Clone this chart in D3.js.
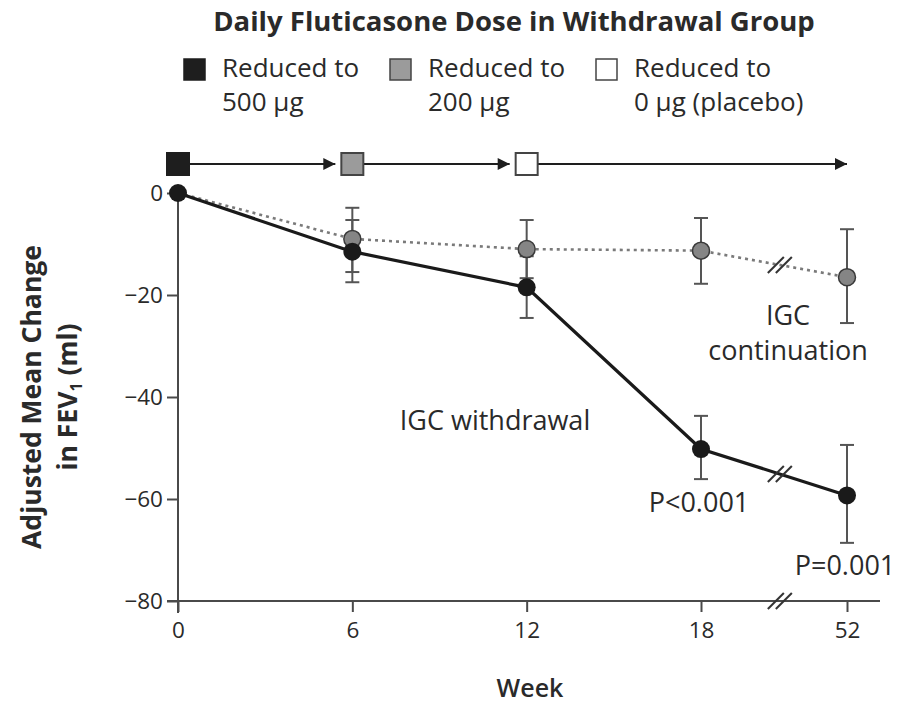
<!DOCTYPE html>
<html>
<head>
<meta charset="utf-8">
<script src="https://cdn.jsdelivr.net/npm/d3@7"></script>
<style>
  html, body { margin: 0; padding: 0; background: #fff; }
  svg { display: block; font-family: "Open Sans", "DejaVu Sans", sans-serif; }
</style>
</head>
<body>
<svg id="chart" width="899" height="703"></svg>
<script>
// ---------------- data ----------------
const weeks = [0, 6, 12, 18, 52];
const weekLabels = ["0", "6", "12", "18", "52"];
const yTicks = [0, -20, -40, -60, -80];

// IGC continuation (grey, dotted)
const contMean  = [0, -9.0, -11.0, -11.3, -16.5];
const contLower = [null, -15.5, -16.7, -17.8, -25.5];
const contUpper = [null, -2.9, -5.3, -4.9, -7.1];

// IGC withdrawal (black, solid)
const withMean  = [0, -11.5, -18.5, -50.2, -59.3];
const withLower = [null, -17.5, -24.5, -56.1, -68.6];
const withUpper = [null, -5.3, -12.4, -43.7, -49.4];

// Dose phases in withdrawal group
const doseStartWeeks = [0, 6, 12];
const doseFills = ["#1e1e1e", "#9b9b9b", "#ffffff"];
const legendLine1 = ["Reduced to", "Reduced to", "Reduced to"];
const legendLine2 = ["500 \u03BCg", "200 \u03BCg", "0 \u03BCg (placebo)"];

// ---------------- layout ----------------
const svg = d3.select("#chart");
svg.append("rect").attr("width", 899).attr("height", 703).attr("fill", "#fff");

const x = d3.scaleLinear().domain([0, 18, 52]).range([178, 701, 847]);
const y = d3.scaleLinear().domain([0, -80]).range([193, 601]);

const axisColor = "#4a4a4a";
const textColor = "#2a2a2a";

// title
svg.append("text")
  .attr("x", 514).attr("y", 31)
  .attr("text-anchor", "middle")
  .attr("font-size", 27.5).attr("font-weight", 700)
  .attr("fill", textColor)
  .text("Daily Fluticasone Dose in Withdrawal Group");

// legend
const legendX = [184, 390, 596];
const legend = svg.append("g");
doseFills.forEach((f, i) => {
  legend.append("rect")
    .attr("x", legendX[i]).attr("y", 59)
    .attr("width", 21).attr("height", 21)
    .attr("fill", f)
    .attr("stroke", i === 0 ? "#1e1e1e" : "#444")
    .attr("stroke-width", 1.5);
  legend.append("text")
    .attr("x", legendX[i] + 38).attr("y", 77)
    .attr("font-size", 26).attr("fill", textColor)
    .text(legendLine1[i]);
  legend.append("text")
    .attr("x", legendX[i] + 38).attr("y", 111)
    .attr("font-size", 26).attr("fill", textColor)
    .text(legendLine2[i]);
});

// dose phase arrows row
const rowY = y(0) - 29;
const sq = 22;
const defs = svg.append("defs");
defs.append("marker")
  .attr("id", "arrow").attr("viewBox", "0 0 10 10")
  .attr("refX", 10).attr("refY", 5)
  .attr("markerWidth", 22).attr("markerHeight", 12)
  .attr("markerUnits", "userSpaceOnUse")
  .attr("orient", "auto")
  .append("path").attr("d", "M0,0 L10,5 L0,10 Z").attr("fill", "#1e1e1e");

const phaseEnds = doseStartWeeks.map((w, i) =>
  i < doseStartWeeks.length - 1 ? x(doseStartWeeks[i + 1]) - sq / 2 - 6 : x(weeks[weeks.length - 1]));
doseStartWeeks.forEach((w, i) => {
  svg.append("line")
    .attr("x1", x(w) + sq / 2).attr("x2", phaseEnds[i])
    .attr("y1", rowY).attr("y2", rowY)
    .attr("stroke", "#1e1e1e").attr("stroke-width", 2)
    .attr("marker-end", "url(#arrow)");
});
doseStartWeeks.forEach((w, i) => {
  svg.append("rect")
    .attr("x", x(w) - sq / 2).attr("y", rowY - sq / 2)
    .attr("width", sq).attr("height", sq)
    .attr("fill", doseFills[i])
    .attr("stroke", i === 0 ? "#1e1e1e" : "#444")
    .attr("stroke-width", 2);
});

// axes
const yAxis = svg.append("g")
  .attr("transform", `translate(${x(0)},0)`)
  .call(d3.axisLeft(y).tickValues(yTicks).tickSize(11).tickPadding(4)
    .tickFormat(d => d === 0 ? "0" : "\u2212" + Math.abs(d)));
yAxis.select(".domain").remove();
yAxis.selectAll(".tick line").attr("stroke", axisColor).attr("stroke-width", 2);
yAxis.selectAll(".tick text").attr("font-size", 22.5).attr("fill", textColor)
  .attr("font-family", "'Open Sans', sans-serif");
svg.append("line")
  .attr("x1", x(0)).attr("x2", x(0))
  .attr("y1", y(0)).attr("y2", y(-80) + 12)
  .attr("stroke", axisColor).attr("stroke-width", 2);

const xAxis = svg.append("g")
  .attr("transform", `translate(0,${y(-80)})`)
  .call(d3.axisBottom(x).tickValues(weeks).tickSize(11).tickPadding(10)
    .tickFormat((d, i) => weekLabels[i]));
xAxis.select(".domain").remove();
xAxis.selectAll(".tick line").attr("stroke", axisColor).attr("stroke-width", 2);
xAxis.selectAll(".tick text").attr("font-size", 22.5).attr("fill", textColor)
  .attr("font-family", "'Open Sans', sans-serif");
svg.append("line")
  .attr("x1", x(0) - 11).attr("x2", x(52) + 33)
  .attr("y1", y(-80)).attr("y2", y(-80))
  .attr("stroke", axisColor).attr("stroke-width", 2);

// axis titles
svg.append("text")
  .attr("x", 530).attr("y", 697)
  .attr("text-anchor", "middle")
  .attr("font-size", 25).attr("font-weight", 600)
  .attr("fill", textColor).text("Week");

const midY = (y(0) + y(-80)) / 2;
svg.append("text")
  .attr("transform", `translate(41,${midY}) rotate(-90)`)
  .attr("text-anchor", "middle")
  .attr("font-size", 26.5).attr("font-weight", 700).attr("fill", textColor)
  .text("Adjusted Mean Change");
const yl2 = svg.append("text")
  .attr("transform", `translate(77,${midY}) rotate(-90)`)
  .attr("text-anchor", "middle")
  .attr("font-size", 26.5).attr("font-weight", 700).attr("fill", textColor);
yl2.append("tspan").text("in FEV");
yl2.append("tspan").attr("font-size", 16).attr("dy", 5).text("1");
yl2.append("tspan").attr("dy", -5).text(" (ml)");

// break position between week 18 and week 52
const breakFrac = 0.54;
const breakX = x(18) + breakFrac * (x(52) - x(18));

// series lines
const contPts = weeks.map((w, i) => [x(w), y(contMean[i])]);
const withPts = weeks.map((w, i) => [x(w), y(withMean[i])]);

svg.append("path")
  .attr("d", d3.line()(contPts))
  .attr("fill", "none").attr("stroke", "#7a7a7a")
  .attr("stroke-width", 2.6).attr("stroke-dasharray", "3,4");

// error bars
function errorBars(lower, upper, color) {
  weeks.forEach((w, i) => {
    if (lower[i] == null) return;
    const g = svg.append("g");
    g.append("line").attr("x1", x(w)).attr("x2", x(w))
      .attr("y1", y(lower[i])).attr("y2", y(upper[i]))
      .attr("stroke", color).attr("stroke-width", 2);
    [lower[i], upper[i]].forEach(v => {
      g.append("line").attr("x1", x(w) - 7).attr("x2", x(w) + 7)
        .attr("y1", y(v)).attr("y2", y(v))
        .attr("stroke", color).attr("stroke-width", 2);
    });
  });
}
errorBars(contLower, contUpper, "#555");
errorBars(withLower, withUpper, "#555");

svg.append("path")
  .attr("d", d3.line()(withPts))
  .attr("fill", "none").attr("stroke", "#1a1a1a")
  .attr("stroke-width", 3.2);

// break marks
function breakMark(cx, cy) {
  [-4, 4].forEach(off => {
    svg.append("line")
      .attr("x1", cx + off - 8).attr("y1", cy + 8)
      .attr("x2", cx + off + 8).attr("y2", cy - 8)
      .attr("stroke", "#333").attr("stroke-width", 2);
  });
}
function lineYAt(means) {
  const y18 = y(means[3]), y52 = y(means[4]);
  return y18 + breakFrac * (y52 - y18);
}
breakMark(breakX, lineYAt(contMean));
breakMark(breakX, lineYAt(withMean));
breakMark(breakX, y(-80));

// points
svg.selectAll(".cont").data(weeks.slice(1)).enter().append("circle")
  .attr("cx", d => x(d)).attr("cy", (d, i) => y(contMean[i + 1]))
  .attr("r", 8.5).attr("fill", "#858585").attr("stroke", "#3a3a3a").attr("stroke-width", 1.5);
svg.selectAll(".with").data(weeks).enter().append("circle")
  .attr("cx", d => x(d)).attr("cy", (d, i) => y(withMean[i]))
  .attr("r", 9).attr("fill", "#1a1a1a");

// annotations
const ann = [
  { t: "IGC withdrawal", x: 495, y: 430 },
  { t: "IGC", x: 788, y: 325 },
  { t: "continuation", x: 788, y: 360 },
  { t: "P<0.001", x: 699, y: 512 },
  { t: "P=0.001", x: 845, y: 575 }
];
ann.forEach(a => {
  svg.append("text").attr("x", a.x).attr("y", a.y)
    .attr("text-anchor", "middle").attr("font-size", 27)
    .attr("fill", textColor).text(a.t);
});
</script>
</body>
</html>
